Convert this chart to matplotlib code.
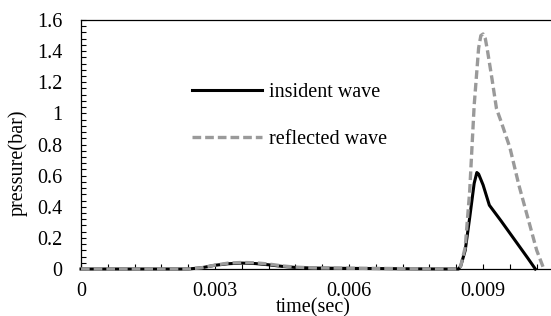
import numpy as np
import matplotlib
matplotlib.use('Agg')
import matplotlib.pyplot as plt
from matplotlib.ticker import MultipleLocator

# time (sec) and pressure (bar)
t_inc = [0, 0.0024, 0.0027, 0.0030, 0.0033, 0.0036, 0.0039, 0.0042, 0.0045,
         0.0048, 0.0052, 0.0060, 0.0070, 0.0080, 0.00845, 0.0085, 0.0086,
         0.0087, 0.0088, 0.00886, 0.0089, 0.0090, 0.00914, 0.0094, 0.0096,
         0.0098, 0.0100, 0.01017]
p_inc = [0, 0, 0.008, 0.024, 0.034, 0.038, 0.035, 0.027, 0.017,
         0.010, 0.006, 0.004, 0.002, 0, 0, 0.02, 0.12,
         0.33, 0.55, 0.62, 0.61, 0.54, 0.41, 0.31, 0.23,
         0.15, 0.07, 0]

t_ref = [0, 0.0024, 0.0027, 0.0030, 0.0033, 0.0036, 0.0039, 0.0042, 0.0045,
         0.0048, 0.0052, 0.0060, 0.0070, 0.0080, 0.00845, 0.0085, 0.0086,
         0.0087, 0.0088, 0.0089, 0.00895, 0.0090, 0.00905, 0.0091, 0.0092,
         0.0093, 0.0094, 0.0096, 0.0098, 0.0100, 0.0102, 0.01036]
p_ref = [0, 0, 0.008, 0.025, 0.038, 0.042, 0.040, 0.032, 0.020,
         0.012, 0.007, 0.005, 0.003, 0, 0, 0.02, 0.14,
         0.50, 1.05, 1.42, 1.50, 1.51, 1.48, 1.40, 1.22,
         1.03, 0.95, 0.78, 0.54, 0.33, 0.12, 0]

x_ticks = [0, 0.003, 0.006, 0.009]
x_labels = ['0', '0.003', '0.006', '0.009']
y_ticks = [0, 0.2, 0.4, 0.6, 0.8, 1.0, 1.2, 1.4, 1.6]
y_labels = ['0', '0.2', '0.4', '0.6', '0.8', '1', '1.2', '1.4', '1.6']

plt.rcParams['font.family'] = ['Liberation Serif', 'DejaVu Serif']
fs = 14.5

fig = plt.figure(figsize=(5.51, 3.16), dpi=100)
ax = fig.add_axes([81 / 551, 47 / 316, 470 / 551, 249 / 316])

ax.plot(t_inc, p_inc, color='black', lw=2.2, label='insident wave',
        clip_on=False, zorder=3)
ax.plot(t_ref, p_ref, color='#9a9a9a', lw=2.4, dashes=(2.6, 1.2),
        label='reflected wave', clip_on=False, zorder=4)

ax.set_xlim(0, 0.01052)
ax.set_ylim(0, 1.6)

ax.set_xticks(x_ticks)
ax.set_xticklabels(x_labels)
ax.set_yticks(y_ticks)
ax.set_yticklabels(y_labels)
ax.xaxis.set_minor_locator(MultipleLocator(0.0006))
ax.yaxis.set_minor_locator(MultipleLocator(0.04))
ax.tick_params(axis='x', which='both', direction='in', length=3.5, width=0.8,
               pad=9, labelsize=fs)
ax.tick_params(axis='y', which='both', direction='in', length=3.5, width=0.8,
               pad=13.5, labelsize=fs)

ax.spines['right'].set_visible(False)
for s in ['left', 'bottom', 'top']:
    ax.spines[s].set_linewidth(0.9)
    ax.spines[s].set_color('black')

ax.legend(loc='center left', bbox_to_anchor=((192 - 81) / 470, 0.6145),
          frameon=False, fontsize=fs, borderpad=0, borderaxespad=0,
          handlelength=3.5, handletextpad=0.3, labelspacing=1.4)

fig.text(313 / 551, 3.5 / 316, 'time(sec)', ha='center', va='baseline',
         fontsize=fs)
fig.text(18 / 551, 1 - 163 / 316, 'pressure(bar)', rotation=90,
         ha='center', va='center', fontsize=fs)

fig.savefig('out.png', dpi=100)
